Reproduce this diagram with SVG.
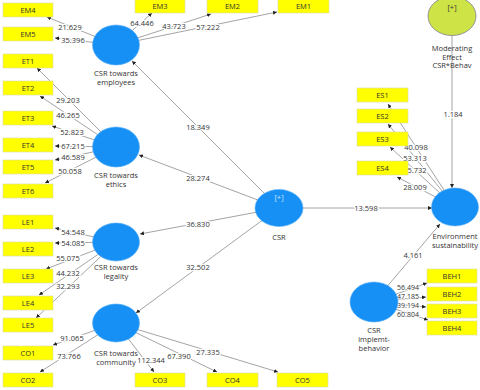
<svg xmlns="http://www.w3.org/2000/svg" width="480" height="390" viewBox="0 0 480 390">
<defs>
<marker id="ah" markerWidth="4" markerHeight="4" refX="4" refY="2" orient="auto" markerUnits="userSpaceOnUse">
<path d="M0,0 L4,2 L0,4 Z" fill="#222"/>
</marker>
<style>
.c line{stroke:#9a9a9a;stroke-width:0.9;marker-end:url(#ah)}
.lbl{font-family:"Open Sans","Noto Sans",sans-serif;font-size:7.5px;fill:#333;text-anchor:middle;paint-order:stroke;stroke:#fff;stroke-width:2.5px;stroke-linejoin:round}
.sm{font-size:7px;stroke-width:1.5px}
.box rect{fill:#ffff00;stroke:#d9d9a0;stroke-width:0.6}
.box text,.lat text{font-family:"Open Sans","Noto Sans",sans-serif;font-size:7.5px;fill:#333;text-anchor:middle}
.lat ellipse{fill:#1690f5;stroke:#5aaef5;stroke-width:0.6}
.mod ellipse{fill:#cde346;stroke:#8a8a8a;stroke-width:0.9}
</style>
</defs>
<rect width="480" height="390" fill="#fff"/>
<g id="connectors" class="c">
<line x1="116" y1="45" x2="47" y2="17"/>
<line x1="116" y1="45" x2="55" y2="38"/>
<line x1="116" y1="45" x2="152" y2="13"/>
<line x1="116" y1="45" x2="211" y2="14"/>
<line x1="116" y1="45" x2="277" y2="12"/>
<line x1="116" y1="147" x2="37" y2="68"/>
<line x1="116" y1="147" x2="40" y2="96"/>
<line x1="116" y1="147" x2="52" y2="126"/>
<line x1="116" y1="147" x2="55" y2="146"/>
<line x1="116" y1="147" x2="55" y2="160"/>
<line x1="116" y1="147" x2="45" y2="183"/>
<line x1="116" y1="242" x2="55" y2="228"/>
<line x1="116" y1="242" x2="55" y2="243"/>
<line x1="116" y1="242" x2="46" y2="269"/>
<line x1="116" y1="242" x2="39" y2="295"/>
<line x1="116" y1="242" x2="36" y2="318"/>
<line x1="116" y1="323" x2="53" y2="345"/>
<line x1="116" y1="323" x2="40" y2="372"/>
<line x1="116" y1="323" x2="154" y2="372"/>
<line x1="116" y1="323" x2="217" y2="372"/>
<line x1="116" y1="323" x2="278" y2="372"/>
<line x1="279" y1="208" x2="132" y2="61"/>
<line x1="279" y1="208" x2="139" y2="155"/>
<line x1="279" y1="208" x2="140" y2="234"/>
<line x1="279" y1="208" x2="136" y2="313"/>
<line x1="279" y1="208" x2="432" y2="208"/>
<line x1="452" y1="36" x2="452" y2="188"/>
<line x1="374" y1="302" x2="440" y2="224"/>
<line x1="455" y1="207" x2="388" y2="104"/>
<line x1="455" y1="207" x2="388" y2="124"/>
<line x1="455" y1="207" x2="390" y2="147"/>
<line x1="455" y1="207" x2="397" y2="177"/>
<line x1="374" y1="302" x2="427" y2="283"/>
<line x1="374" y1="302" x2="426" y2="297"/>
<line x1="374" y1="302" x2="426" y2="307"/>
<line x1="374" y1="302" x2="428" y2="320"/>
<text class="lbl" x="70" y="30">21.629</text>
<text class="lbl" x="73" y="43">35.396</text>
<text class="lbl" x="142" y="26">64.446</text>
<text class="lbl" x="174" y="29">43.723</text>
<text class="lbl" x="208" y="30">57.222</text>
<text class="lbl" x="68" y="103">29.203</text>
<text class="lbl" x="68" y="118">46.265</text>
<text class="lbl" x="72" y="135">52.823</text>
<text class="lbl" x="73" y="149">67.215</text>
<text class="lbl" x="73" y="160">46.589</text>
<text class="lbl" x="70" y="174">50.058</text>
<text class="lbl" x="73" y="235">54.548</text>
<text class="lbl" x="73" y="246">54.085</text>
<text class="lbl" x="68" y="261">55.075</text>
<text class="lbl" x="68" y="276">44.232</text>
<text class="lbl" x="68" y="289">32.293</text>
<text class="lbl" x="72" y="341">91.065</text>
<text class="lbl" x="69" y="359">73.766</text>
<text class="lbl" x="151" y="363">112.344</text>
<text class="lbl" x="179" y="359">67.390</text>
<text class="lbl" x="208" y="355">27.335</text>
<text class="lbl" x="198" y="130">18.349</text>
<text class="lbl" x="198" y="181">28.274</text>
<text class="lbl" x="198" y="227">36.830</text>
<text class="lbl" x="198" y="270">32.502</text>
<text class="lbl" x="366" y="211">13.598</text>
<text class="lbl" x="453" y="117">1.184</text>
<text class="lbl" x="413" y="258">4.161</text>
<text class="lbl" x="416" y="150">40.098</text>
<text class="lbl" x="415" y="161">53.313</text>
<text class="lbl" x="417" y="173">5.732</text>
<text class="lbl" x="415" y="190">28.009</text>
<text class="lbl sm" x="408" y="290">56.494</text>
<text class="lbl sm" x="408" y="299">47.185</text>
<text class="lbl sm" x="408" y="308">39.194</text>
<text class="lbl sm" x="408" y="317">60.804</text>
</g>
<g id="EM4" class="box"><rect x="3" y="3" width="50" height="14"/><text x="28" y="12.7">EM4</text></g>
<g id="EM5" class="box"><rect x="3" y="27" width="50" height="14"/><text x="28" y="36.7">EM5</text></g>
<g id="ET1" class="box"><rect x="3" y="54" width="50" height="14"/><text x="28" y="63.7">ET1</text></g>
<g id="ET2" class="box"><rect x="3" y="81" width="50" height="14"/><text x="28" y="90.7">ET2</text></g>
<g id="ET3" class="box"><rect x="3" y="111" width="50" height="14"/><text x="28" y="120.7">ET3</text></g>
<g id="ET4" class="box"><rect x="3" y="138" width="50" height="14"/><text x="28" y="147.7">ET4</text></g>
<g id="ET5" class="box"><rect x="3" y="160" width="50" height="14"/><text x="28" y="169.7">ET5</text></g>
<g id="ET6" class="box"><rect x="3" y="184" width="50" height="14"/><text x="28" y="193.7">ET6</text></g>
<g id="LE1" class="box"><rect x="3" y="215" width="50" height="14"/><text x="28" y="224.7">LE1</text></g>
<g id="LE2" class="box"><rect x="3" y="242" width="50" height="14"/><text x="28" y="251.7">LE2</text></g>
<g id="LE3" class="box"><rect x="3" y="269" width="50" height="14"/><text x="28" y="278.7">LE3</text></g>
<g id="LE4" class="box"><rect x="3" y="296" width="50" height="14"/><text x="28" y="305.7">LE4</text></g>
<g id="LE5" class="box"><rect x="3" y="318" width="50" height="14"/><text x="28" y="327.7">LE5</text></g>
<g id="CO1" class="box"><rect x="3" y="346" width="50" height="14"/><text x="28" y="355.7">CO1</text></g>
<g id="CO2" class="box"><rect x="3" y="373" width="50" height="14"/><text x="28" y="382.7">CO2</text></g>
<g id="CO3" class="box"><rect x="135" y="373" width="50" height="14"/><text x="160" y="382.7">CO3</text></g>
<g id="CO4" class="box"><rect x="207" y="373" width="51" height="14"/><text x="232.5" y="382.7">CO4</text></g>
<g id="CO5" class="box"><rect x="277" y="373" width="51" height="14"/><text x="302.5" y="382.7">CO5</text></g>
<g id="EM3" class="box"><rect x="135" y="-1" width="50" height="14"/><text x="160" y="8.7">EM3</text></g>
<g id="EM2" class="box"><rect x="207" y="-1" width="51" height="14"/><text x="232.5" y="8.7">EM2</text></g>
<g id="EM1" class="box"><rect x="278" y="-1" width="51" height="14"/><text x="303.5" y="8.7">EM1</text></g>
<g id="ES1" class="box"><rect x="357" y="88" width="51" height="14"/><text x="382.5" y="97.7">ES1</text></g>
<g id="ES2" class="box"><rect x="357" y="109" width="51" height="14"/><text x="382.5" y="118.7">ES2</text></g>
<g id="ES3" class="box"><rect x="357" y="132" width="51" height="14"/><text x="382.5" y="141.7">ES3</text></g>
<g id="ES4" class="box"><rect x="357" y="161" width="51" height="14"/><text x="382.5" y="170.7">ES4</text></g>
<g id="BEH1" class="box"><rect x="427" y="269" width="50" height="14"/><text x="452" y="278.7">BEH1</text></g>
<g id="BEH2" class="box"><rect x="427" y="287" width="50" height="14"/><text x="452" y="296.7">BEH2</text></g>
<g id="BEH3" class="box"><rect x="427" y="304" width="50" height="14"/><text x="452" y="313.7">BEH3</text></g>
<g id="BEH4" class="box"><rect x="427" y="321" width="50" height="14"/><text x="452" y="330.7">BEH4</text></g>
<g id="employees" class="lat"><ellipse cx="116" cy="45" rx="23.5" ry="20"/><text x="116" y="76">CSR towards</text><text x="116" y="85">employees</text></g>
<g id="ethics" class="lat"><ellipse cx="116" cy="147" rx="23.5" ry="20"/><text x="116" y="178">CSR towards</text><text x="116" y="187">ethics</text></g>
<g id="legality" class="lat"><ellipse cx="116" cy="242" rx="23.5" ry="19"/><text x="116" y="270">CSR towards</text><text x="116" y="279">legality</text></g>
<g id="community" class="lat"><ellipse cx="116" cy="323" rx="23.5" ry="19"/><text x="116" y="356">CSR towards</text><text x="116" y="365">community</text></g>
<g id="CSR" class="lat"><ellipse cx="279" cy="208" rx="24" ry="18.5"/><text x="279" y="200" style="fill:#cfe6ff">[+]</text><text x="279" y="240">CSR</text></g>
<g id="environment" class="lat"><ellipse cx="455" cy="207" rx="23.5" ry="19"/><text x="455" y="239">Environment</text><text x="455" y="248">sustainability</text></g>
<g id="behavior" class="lat"><ellipse cx="374" cy="302" rx="24" ry="20"/><text x="374" y="333">CSR</text><text x="374" y="342">implemt-</text><text x="374" y="351">behavior</text></g>
<g id="moderating" class="lat mod"><ellipse cx="452" cy="16" rx="24" ry="19.5"/><text x="452" y="10">[+]</text><text x="452" y="51">Moderating</text><text x="452" y="59.5">Effect</text><text x="452" y="68">CSR*Behav</text></g>
</svg>
